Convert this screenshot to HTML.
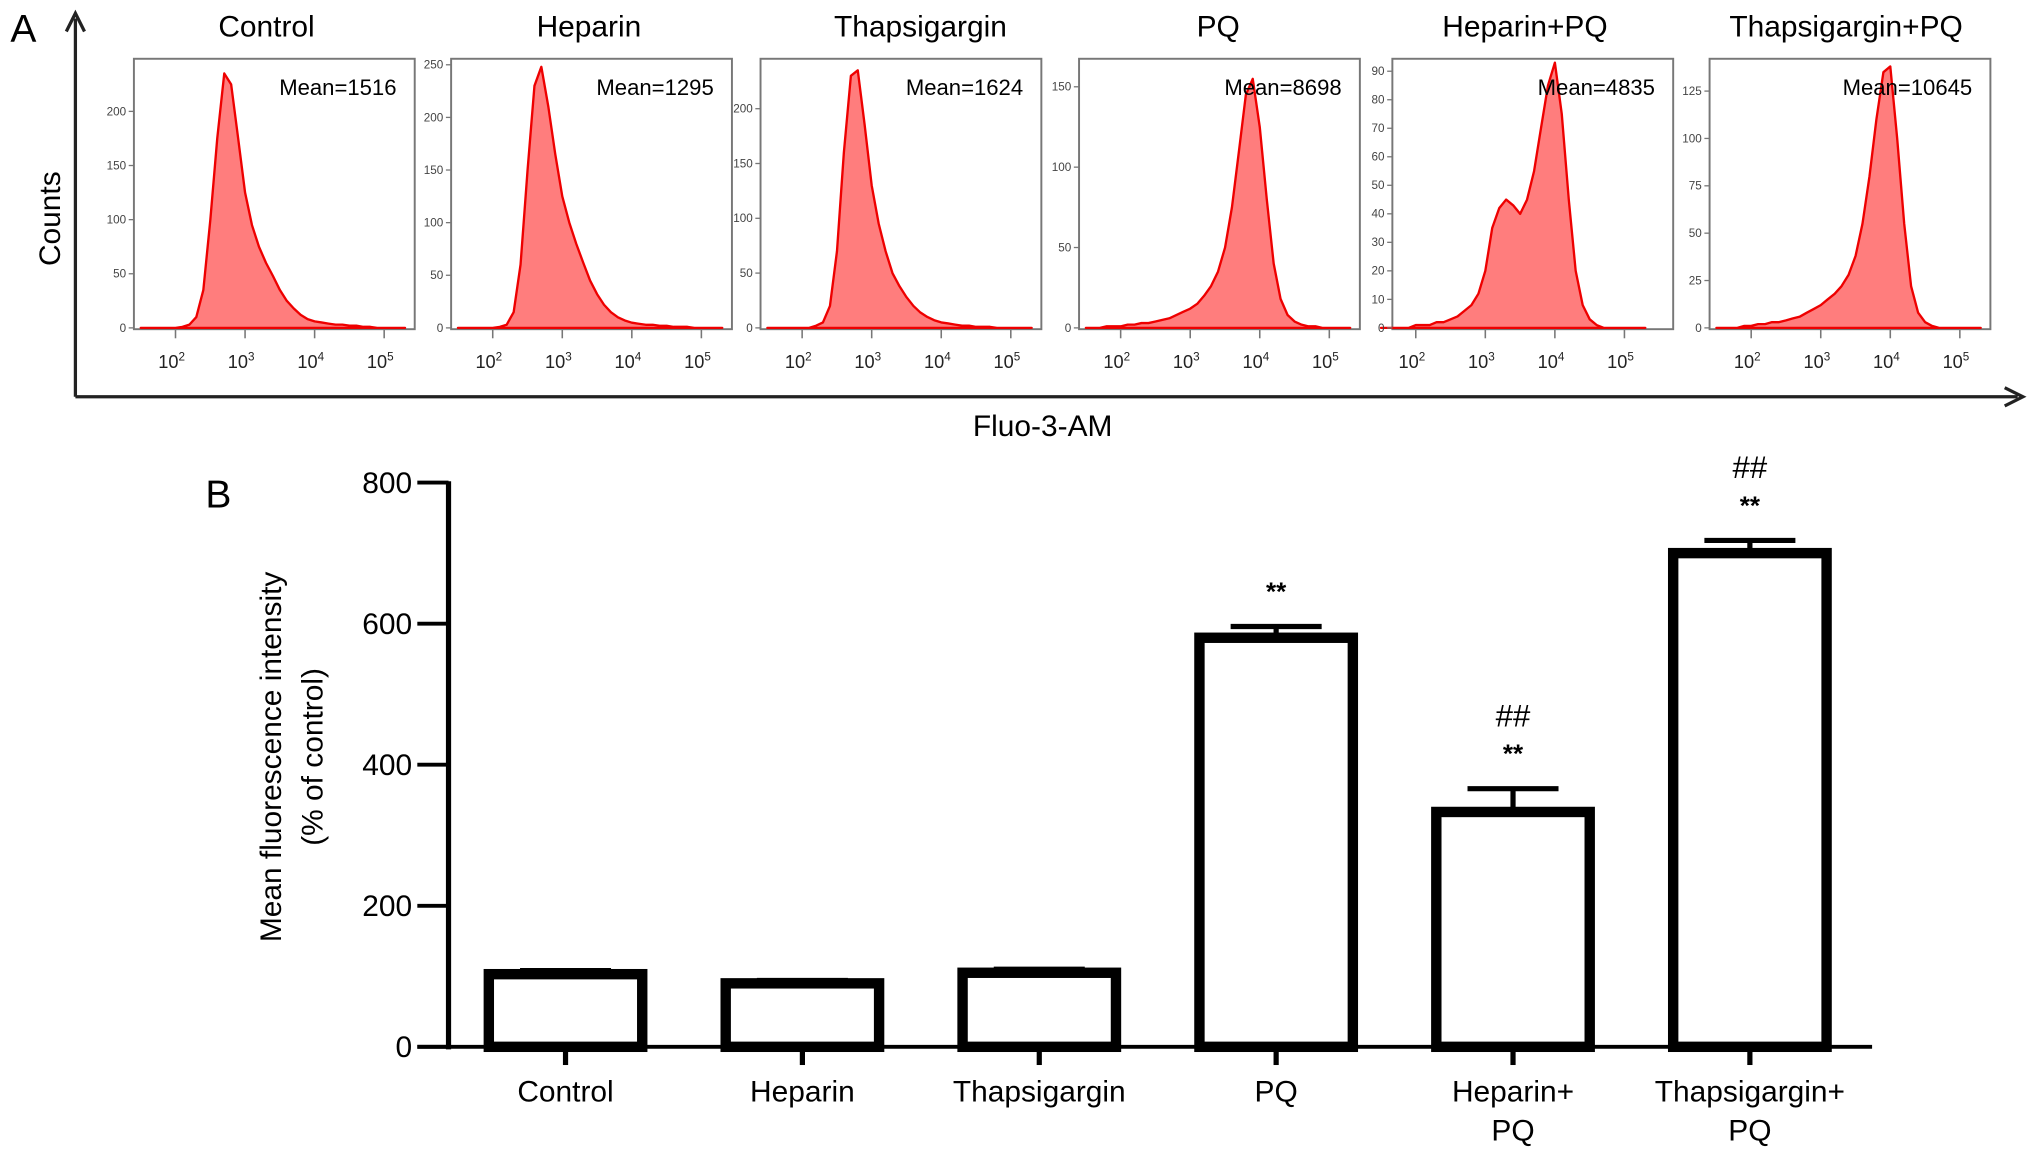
<!DOCTYPE html>
<html><head><meta charset="utf-8"><style>
html,body{margin:0;padding:0;background:#fff;}
svg{display:block;font-family:"Liberation Sans",Arial,sans-serif;}
</style></head><body>
<svg id="fig" width="2032" height="1155" viewBox="0 0 1563 888" xmlns="http://www.w3.org/2000/svg">
<g id="panelA">
<text x="8" y="32" font-size="30">A</text>
<line x1="58" y1="305" x2="58" y2="14" stroke="#222" stroke-width="2.5"/>
<path d="M51,24 L58,10 L65,24" fill="none" stroke="#222" stroke-width="2.5"/>
<line x1="58" y1="305" x2="1552" y2="305" stroke="#222" stroke-width="2.5"/>
<path d="M1542,298 L1556,305 L1542,312" fill="none" stroke="#222" stroke-width="2.5"/>
<text transform="translate(46,168) rotate(-90)" text-anchor="middle" font-size="23">Counts</text>
<text x="802" y="335" text-anchor="middle" font-size="23">Fluo-3-AM</text>
</g>
<g id="panelB">
<text x="158" y="390" font-size="30">B</text>
<text transform="translate(216,582) rotate(-90)" text-anchor="middle" font-size="23">Mean fluorescence intensity</text>
<text transform="translate(248,582) rotate(-90)" text-anchor="middle" font-size="23">(% of control)</text>
</g>
</svg>
<script>
// ---------- Panel A data ----------
const histTitles = ["Control","Heparin","Thapsigargin","PQ","Heparin+PQ","Thapsigargin+PQ"];
const histMeans = [1516,1295,1624,8698,4835,10645];
const histYMax = [245,252,242,165,93,140];
const histYTicks = [[0,50,100,150,200],[0,50,100,150,200,250],[0,50,100,150,200],[0,50,100,150],[0,10,20,30,40,50,60,70,80,90],[0,25,50,75,100,125]];
const logBins = [1.5,1.6,1.7,1.8,1.9,2.0,2.1,2.2,2.3,2.4,2.5,2.6,2.7,2.8,2.9,3.0,3.1,3.2,3.3,3.4,3.5,3.6,3.7,3.8,3.9,4.0,4.1,4.2,4.3,4.4,4.5,4.6,4.7,4.8,4.9,5.0,5.1,5.2,5.3];
const countsControl = [0,0,0,0,0,0,1,3,10,35,100,175,235,225,175,125,95,75,60,48,35,25,18,12,8,6,5,4,3,3,2,2,1,1,0,0,0,0,0];
const countsHeparin = [0,0,0,0,0,0,1,3,15,60,150,230,248,210,165,125,100,80,62,45,32,22,15,10,7,5,4,3,3,2,2,1,1,1,0,0,0,0,0];
const countsThaps = [0,0,0,0,0,0,0,2,5,20,70,160,230,235,185,130,95,70,50,38,28,20,14,10,7,5,4,3,2,2,1,1,1,0,0,0,0,0,0];
const countsPQ = [0,0,0,1,1,1,2,2,3,3,4,5,6,8,10,12,15,20,26,35,50,75,110,145,155,125,80,40,18,8,4,2,1,1,0,0,0,0,0];
const countsHepPQ = [0,0,0,0,0,1,1,1,2,2,3,4,6,8,12,20,35,42,45,43,40,45,55,70,85,93,75,45,20,8,3,1,0,0,0,0,0,0,0];
const countsThapsPQ = [0,0,0,0,1,1,2,2,3,3,4,5,6,8,10,12,15,18,22,28,38,55,80,110,135,138,100,55,22,8,3,1,0,0,0,0,0,0,0];
const histCounts = [countsControl,countsHeparin,countsThaps,countsPQ,countsHepPQ,countsThapsPQ];
const decadeTicks = [2,3,4,5];

// ---------- Panel B data ----------
const barCategories = [["Control"],["Heparin"],["Thapsigargin"],["PQ"],["Heparin+","PQ"],["Thapsigargin+","PQ"]];
const barValues = [103,90,105,580,333,700];
const barErrors = [5,4,5,16,33,18];
const barStars = ["","","","**","**","**"];
const barHashes = ["","","","","##","##"];
const yTicks = [0,200,400,600,800];

const NS = "http://www.w3.org/2000/svg";
const svg = document.getElementById("fig");
function mk(tag, attrs, parent, text){
  const e = document.createElementNS(NS, tag);
  for (const k in attrs) e.setAttribute(k, attrs[k]);
  if (text !== undefined) e.textContent = text;
  (parent||svg).appendChild(e);
  return e;
}

// Panel A layout
const boxLeft = [103,347,585,830,1071,1315];
const decadeOrigin = [135,379,617,862,1089,1347];
const boxW = 216, boxTop = 45, boxBot = 253;
const titleX = [205,453,708,937,1173,1420];
const pA = document.getElementById("panelA");
histTitles.forEach((t,p)=>{
  const g = mk("g",{},pA);
  
  
  const L = boxLeft[p];
  const xs = v => decadeOrigin[p] + (v-2)*53.5;
  const ys = c => boxBot - 1 - c/histYMax[p]*(boxBot-boxTop-4);
  const tt = mk("text",{x:titleX[p],y:28,"text-anchor":"middle","font-size":23},g,t);
  
  
  const box = mk("rect",{x:L,y:boxTop,width:boxW,height:boxBot-boxTop,fill:"#fff",stroke:"#777","stroke-width":1.5},g);
  
  
  const cs = histCounts[p];
  let d = "M"+xs(logBins[0])+","+ys(0);
  logBins.forEach((v,i)=>{ d += " L"+xs(v).toFixed(1)+","+ys(cs[i]).toFixed(1); });
  d += " L"+xs(logBins[logBins.length-1])+","+ys(0)+" Z";
  const area = mk("path",{d:d,fill:"#f66","fill-opacity":0.85,stroke:"#e00","stroke-width":1.8,"stroke-linejoin":"round"},g);
  
  
  const mt = mk("text",{x:L+boxW-14,y:73,"text-anchor":"end","font-size":17},g,"Mean="+histMeans[p]);
  
  
  histYTicks[p].forEach(v=>{
    const y = ys(v);
    const tl = mk("line",{x1:L-4,y1:y,x2:L,y2:y,stroke:"#777","stroke-width":1},g);
    
    
    const tx = mk("text",{x:L-6,y:y+3,"text-anchor":"end","font-size":9,fill:"#444"},g,String(v));
    
    
  });
  decadeTicks.forEach(v=>{
    const x = xs(v);
    const tl = mk("line",{x1:x,y1:boxBot,x2:x,y2:boxBot+7,stroke:"#777","stroke-width":1.2},g);
    
    
    const tx = mk("text",{x:x-3,y:boxBot+30,"text-anchor":"middle","font-size":14,fill:"#222"},g);
    
    
    mk("tspan",{},tx,"10");
    mk("tspan",{dy:-6,"font-size":9},tx,String(v));
  });
});

// Panel B layout
const pB = document.getElementById("panelB");
const y0 = 805, y800 = 371;
const yScale = v => y0 - v/800*(y0-y800);
const xAxisL = 345, xAxisR = 1440;
const slot0 = 435, slotStep = 182.2, barW = 126;
const xCenter = i => slot0 + i*slotStep;

const yax = mk("line",{x1:xAxisL,y1:y800-1,x2:xAxisL,y2:y0+2,stroke:"#000","stroke-width":4},pB);


const xax = mk("line",{x1:xAxisL-24,y1:y0,x2:xAxisR,y2:y0,stroke:"#000","stroke-width":3},pB);


yTicks.forEach(v=>{
  const y = yScale(v);
  const tl = mk("line",{x1:xAxisL-24,y1:y,x2:xAxisL,y2:y,stroke:"#000","stroke-width":3},pB);
  
  
  const tx = mk("text",{x:xAxisL-28,y:y+8,"text-anchor":"end","font-size":23},pB,String(v));
  
  
});
barValues.forEach((v,i)=>{
  const cx = xCenter(i);
  const yt = yScale(v);
  const g = mk("g",{},pB);
  
  
  const eb = yScale(v+barErrors[i]);
  const el = mk("line",{x1:cx,y1:yt,x2:cx,y2:eb,stroke:"#000","stroke-width":4},g);
  
  
  const ec = mk("line",{x1:cx-35,y1:eb,x2:cx+35,y2:eb,stroke:"#000","stroke-width":4},g);
  
  
  const r = mk("rect",{x:cx-barW/2+4,y:yt,width:barW-8,height:y0-yt,fill:"#fff",stroke:"#000","stroke-width":8},g);
  
  
  const tk = mk("line",{x1:cx,y1:y0,x2:cx,y2:y0+14,stroke:"#000","stroke-width":4},g);
  
  
  barCategories[i].forEach((line,k)=>{
    const tx = mk("text",{x:cx,y:847+k*30,"text-anchor":"middle","font-size":23},g,line);
    
    
  });
  if (barStars[i]) {
    const st = mk("text",{x:cx,y:eb-20,"text-anchor":"middle","font-size":20,"font-weight":"bold"},g,barStars[i]);
    
    
  }
  if (barHashes[i]) {
    const hs = mk("text",{x:cx,y:eb-48,"text-anchor":"middle","font-size":24},g,barHashes[i]);
    
    
  }
});
</script>
</body></html>
